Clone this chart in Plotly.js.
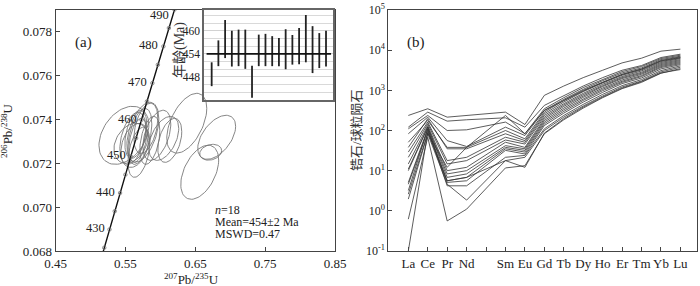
<!DOCTYPE html>
<html><head><meta charset="utf-8">
<script src="https://cdn.plot.ly/plotly-3.0.1.min.js"></script>
<style>body{margin:0;background:#fff}#c{width:700px;height:286px}</style>
</head><body><div id="c"></div>
<script>
// ---- Concordia (ages in Ma, 207Pb/235U, 206Pb/238U) ----
const concAges = [420,425,430,435,440,445,450,455,460,465,470,475,480,485,490,495];
const concX = [0.51231,0.51977,0.52728,0.53481,0.54239,0.55000,0.55766,0.56535,0.57307,0.58084,0.58864,0.59649,0.60437,0.61229,0.62024,0.62824];
const concY = [0.067319,0.068150,0.068979,0.069808,0.070638,0.071469,0.072301,0.073132,0.073965,0.074798,0.075632,0.076467,0.077302,0.078138,0.078975,0.079812];
const concLabelAges = [430,440,450,460,470,480,490];

// ---- Error ellipses of 18 spots ----
const ellX  = [0.5479,0.5607,0.5650,0.5679,0.5707,0.5636,0.5693,0.5750,0.5793,0.5579,0.5950,0.6050,0.6136,0.5850,0.6379,0.6807,0.6564,0.6721];
const ellSX = [0.0357,0.0186,0.0157,0.0129,0.0171,0.0200,0.0157,0.0229,0.0171,0.0243,0.0200,0.0214,0.0171,0.0143,0.0286,0.0271,0.0271,0.0157];
const ellY  = [0.07326,0.07312,0.07330,0.07303,0.07321,0.07280,0.07249,0.07340,0.07358,0.07290,0.07326,0.07312,0.07303,0.07303,0.07381,0.07317,0.07158,0.07249];
const ellSY = [0.00132,0.00118,0.00109,0.00100,0.00127,0.00100,0.00114,0.00136,0.00114,0.00091,0.00114,0.00100,0.00100,0.00109,0.00136,0.00100,0.00123,0.00036];
const ellRho= [0.35,0.4,0.4,0.4,0.45,0.3,0.4,0.45,0.4,0.3,0.45,0.45,0.4,0.4,0.5,0.5,0.45,0.2];

// ---- Inset: spot ages ----
const spotNo  = [1,2,3,4,5,6,7,8,9,10,11,12,13,14,15,16,17,18];
const ageLow  = [445.6,450.8,452.9,450.7,450.8,450.1,442.6,450.8,450.8,450.8,450.8,450.0,451.2,451.3,451.8,449.0,450.3,450.7];
const ageHigh = [451.8,457.5,462.8,460.0,460.3,460.3,450.9,459.0,459.2,458.6,458.1,460.4,458.9,460.7,464.1,461.2,459.4,460.0];
const meanAge = 454;
const insetTicks = [448,454,460];

// ---- REE (chondrite normalized) ----
const reeAxis   = ['La','Ce','Pr','Nd','Pm','Sm','Eu','Gd','Tb','Dy','Ho','Er','Tm','Yb','Lu'];
const reeLabels = ['La','Ce','Pr','Nd','','Sm','Eu','Gd','Tb','Dy','Ho','Er','Tm','Yb','Lu'];
const reeShown  = ['La','Ce','Pr','Nd','Sm','Eu','Gd','Tb','Dy','Ho','Er','Tm','Yb','Lu'];
const zr01 = [237,348,215,237,287,141,750,1280,2070,3160,4820,6310,9440,10590];
const zr02 = [121,287,171,185,207,121,422,750,1280,2070,3160,4140,6560,7940];
const zr03 = [110,237,100,104,162,83,348,656,1170,1880,2930,3910,6190,7500];
const zr04 = [83,215,56,40,121,75,316,596,1060,1740,2710,3610,5840,7080];
const zr05 = [51,178,38,38,100,62,287,562,1000,1610,2510,3410,5520,6810];
const zr06 = [38,196,35,35,83,56,261,511,926,1520,2370,3220,5210,6430];
const zr07 = [29,162,17.8,21.5,68,51,237,464,841,1410,2200,3040,4920,6190];
const zr08 = [21.5,147,14.7,17.8,58,46,215,430,779,1310,2070,2820,4640,5840];
const zr09 = [14.7,133,10,12.1,51,38,196,398,721,1240,1960,2660,4380,5520];
const zr10 = [11,121,8.3,10,42,35,178,361,668,1140,1810,2510,4140,5210];
const zr11 = [10,121,6.8,8.3,38,32,162,329,607,1060,1680,2330,3910,4920];
const zr12 = [5.1,110,5.6,6.8,35,29,147,299,562,982,1580,2200,3690,4640];
const zr13 = [4.6,100,5.1,5.6,32,26,133,271,511,891,1470,2030,3410,4380];
const zr14 = [3.2,110,4.2,4.2,21.5,24,110,237,447,794,1310,1850,3100,4060];
const zr15 = [2.6,86,12.1,38,237,83,316,562,962,1580,2470,3350,5410,6560];
const zr16 = [1.96,83,4.6,1.85,17.8,21.5,100,215,406,721,1210,1710,2870,3760];
const zr17 = [0.62,68,0.56,1.1,11.7,13.3,83,185,361,656,1100,1580,2660,3480];
const zr18 = [0.1,91,5.6,6.8,17.8,12.1,86,196,383,681,1140,1650,2710,3290];
const reeSamples = [zr01,zr02,zr03,zr04,zr05,zr06,zr07,zr08,zr09,zr10,zr11,zr12,zr13,zr14,zr15,zr16,zr17,zr18];

const SERIF = '"Liberation Serif","Times New Roman",serif';
const CJK = '"Liberation Serif","Noto Sans CJK SC",serif';
const AX = '#444';

const traces = [];
// ellipses
const ex = [], ey = [];
for (let k = 0; k < ellX.length; k++) {
  const r = ellRho[k], q = Math.sqrt(1 - r*r);
  for (let i = 0; i <= 72; i++) {
    const t = i / 72 * 2 * Math.PI;
    ex.push(ellX[k] + ellSX[k]*Math.cos(t));
    ey.push(ellY[k] + ellSY[k]*(r*Math.cos(t) + q*Math.sin(t)));
  }
  ex.push(null); ey.push(null);
}
traces.push({x: ex, y: ey, type:'scatter', mode:'lines', line:{color:'#707070', width:0.85}, xaxis:'x', yaxis:'y', hoverinfo:'skip'});
// concordia
traces.push({x: concX, y: concY, type:'scatter', mode:'lines+markers', line:{color:'#111', width:1.4},
  marker:{symbol:'circle-open', size:3.5, color:'#777', line:{width:0.8}}, xaxis:'x', yaxis:'y'});
// inset bars
const bx = [], by = [];
spotNo.forEach((n, i) => { bx.push(n, n, null); by.push(ageLow[i], ageHigh[i], null); });
traces.push({x: bx, y: by, type:'scatter', mode:'lines', line:{color:'#222', width:1.8}, xaxis:'x3', yaxis:'y3'});
// REE lines
const reeX = reeShown.map(e => reeAxis.indexOf(e));
reeSamples.forEach(s => traces.push({x: reeX, y: s, type:'scatter', mode:'lines',
  line:{color:'#333', width:0.8}, xaxis:'x2', yaxis:'y2'}));

const annotations = [];
concLabelAges.forEach(a => {
  const i = concAges.indexOf(a);
  annotations.push({x: concX[i], y: concY[i], xref:'x', yref:'y', text: String(a), showarrow:false,
    xanchor:'right', yanchor:'middle', xshift:-3, yshift:a === 490 ? -5 : 1, font:{family:SERIF, size:12.5, color:'#222'}});
});
const txt = (text, x, y, o) => Object.assign({text, x: x/700, y: 1 - y/286, xref:'paper', yref:'paper', showarrow:false,
  xanchor:'center', yanchor:'middle', font:{family:SERIF, size:13, color:'#222'}}, o || {});
const statFont = {family:SERIF, size:12, color:'#222'};
annotations.push(txt('(a)', 83, 43, {font:{family:SERIF, size:15, color:'#222'}}));
annotations.push(txt('(b)', 416, 42, {font:{family:SERIF, size:15, color:'#222'}}));
annotations.push(txt('<i>n</i>=18', 213, 209.5, {xanchor:'left', font:statFont}));
annotations.push(txt('Mean=454±2 Ma', 213, 221.7, {xanchor:'left', font:statFont}));
annotations.push(txt('MSWD=0.47', 213, 233.9, {xanchor:'left', font:statFont}));
annotations.push(txt('<sup>207</sup>Pb/<sup>235</sup>U', 191, 279));
annotations.push(txt('<sup>206</sup>Pb/<sup>238</sup>U', 7, 131, {textangle:-90}));
annotations.push(txt('年龄(Ma)', 180, 50, {textangle:-90, font:{family:CJK, size:14, color:'#333'}}));
annotations.push(txt('锆石/球粒陨石', 356, 130, {textangle:-90, font:{family:CJK, size:13, color:'#333'}}));

const yL = [0.068,0.070,0.072,0.074,0.076,0.078];
const xL = [0.45,0.55,0.65,0.75,0.85];
const logVals = [0.1,1,10,100,1000,10000,100000];
const logText = ['10<sup>-1</sup>','10<sup>0</sup>','10<sup>1</sup>','10<sup>2</sup>','10<sup>3</sup>','10<sup>4</sup>','10<sup>5</sup>'];
const tickFont = {family:SERIF, size:13, color:'#222'};

const layout = {
  width:700, height:286, margin:{l:0,r:0,t:0,b:0}, paper_bgcolor:'#fff', plot_bgcolor:'rgba(0,0,0,0)',
  showlegend:false,
  xaxis:{domain:[55.5/700, 335/700], range:[0.45,0.85], anchor:'y', tickvals:xL, ticktext:xL.map(v=>v.toFixed(2)),
    ticks:'inside', ticklen:4, tickcolor:AX, showline:true, mirror:true, linecolor:AX, linewidth:1, showgrid:false, zeroline:false, tickfont:tickFont},
  yaxis:{domain:[1-251/286, 1-9.5/286], range:[0.068,0.07898], anchor:'x', tickvals:yL, ticktext:yL.map(v=>v.toFixed(3)),
    ticks:'inside', ticklen:4, tickcolor:AX, showline:true, mirror:true, linecolor:AX, linewidth:1, showgrid:false, zeroline:false, tickfont:tickFont},
  xaxis2:{domain:[388.3/700, 696.7/700], range:[-1.03,14.84], anchor:'y2', tickvals:reeAxis.map((e,i)=>i), ticktext:reeLabels,
    ticks:'inside', ticklen:4, tickcolor:AX, showline:true, mirror:true, linecolor:AX, linewidth:1, showgrid:false, zeroline:false, tickfont:tickFont},
  yaxis2:{domain:[1-251/286, 1-10/286], type:'log', range:[-1,5], anchor:'x2', tickvals:logVals, ticktext:logText,
    ticks:'inside', ticklen:4, tickcolor:AX, showline:true, mirror:true, linecolor:AX, linewidth:1, showgrid:false, zeroline:false,
    tickfont:{family:SERIF, size:12, color:'#222'}},
  xaxis3:{domain:[204/700, 333/700], range:[-0.14,19.04], anchor:'y3', showticklabels:false, ticks:'', showgrid:false, zeroline:false,
    showline:true, mirror:true, linecolor:'#666', linewidth:1.6},
  yaxis3:{domain:[1-100/286, 1-10/286], range:[442,465.4], anchor:'x3', tickvals:insetTicks, ticks:'', showgrid:true, gridcolor:'#d0d0d0', gridwidth:0.8,
    minor:{tickmode:'linear', tick0:442, dtick:2, showgrid:true, gridcolor:'#d0d0d0', gridwidth:0.8, ticks:''},
    zeroline:false, showline:true, mirror:true, linecolor:'#666', linewidth:1.6, ticklabelstandoff:0,
    tickfont:{family:SERIF, size:11.5, color:'#222'}},
  shapes:[
    {type:'rect', xref:'x3 domain', yref:'y3 domain', x0:0, x1:1, y0:0, y1:1, fillcolor:'#fff', line:{width:0}, layer:'below'},
    {type:'line', xref:'x3 domain', yref:'y3', x0:0.02, x1:0.985, y0:meanAge, y1:meanAge, line:{color:'#111', width:1.6}}
  ],
  annotations
};
Plotly.newPlot('c', traces, layout, {staticPlot:true, displayModeBar:false});
</script></body></html>
